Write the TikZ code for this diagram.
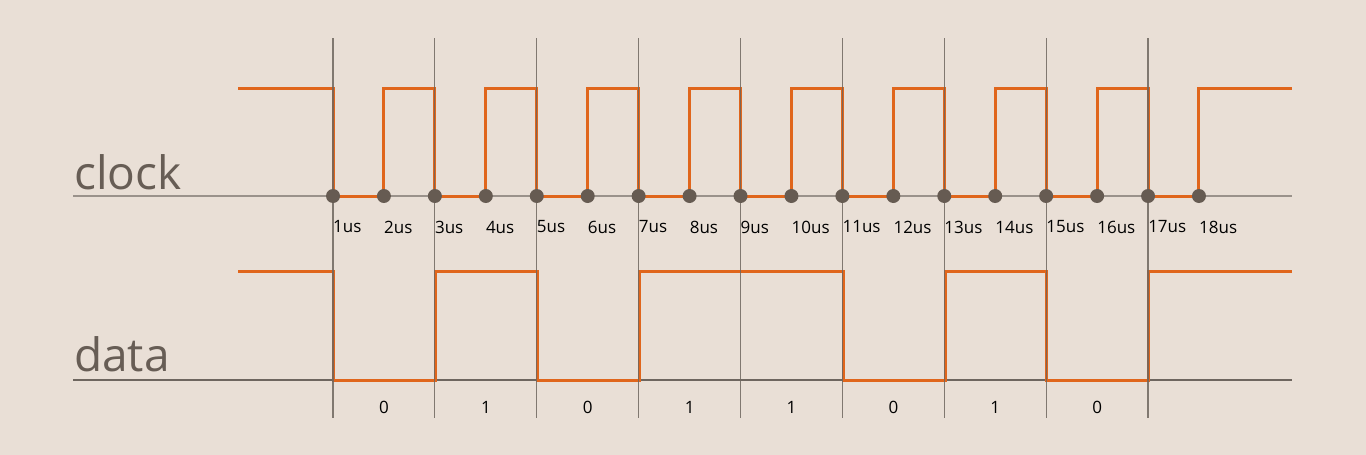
\documentclass[tikz,border=0pt]{standalone}
\usepackage{fontspec}
\setmainfont{Open Sans}
\definecolor{bg}{HTML}{E9DFD6}
\definecolor{sig}{HTML}{E0661C}
\definecolor{grid}{HTML}{6E665F}
\definecolor{base}{HTML}{9A928B}
\definecolor{dotc}{HTML}{665B52}
\definecolor{lbl}{HTML}{675D55}
\begin{document}
\begin{tikzpicture}[x=1pt,y=-1pt,
  gridline/.style={grid,line width=1.2pt,opacity=0.85},
  baseline/.style={base,line width=2pt},
  wave/.style={sig,line width=3pt,line join=miter},
  tick/.style={circle,fill=dotc,inner sep=0pt,minimum size=14pt},
  tlabel/.style={anchor=west,inner sep=0pt,font=\fontsize{17}{17}\selectfont,text=black},
  bit/.style={inner sep=0pt,font=\fontsize{17}{17}\selectfont,text=black},
  title/.style={anchor=base west,inner sep=0pt,font=\fontsize{46}{46}\selectfont,text=lbl}]
\fill[bg] (0,0) rectangle (1366,455);
\useasboundingbox (0,0) rectangle (1366,455);
% baselines
\draw[baseline] (73,196) -- (1292,196);
\draw[grid,line width=1.6pt] (73,380) -- (1292,380);
% titles
\node[title] (clk) at (74,189) {clock};
\node[title] (dat) at (74,371) {data};
% clock waveform
\draw[wave] (238,88) -- (333,88) -- (333,196)
  \foreach \k in {0,...,7}{
    -- ({333+101.875*\k+50.94},196) -- ({333+101.875*\k+50.94},88)
    -- ({333+101.875*(\k+1)},88) -- ({333+101.875*(\k+1)},196)
  }
  -- (1198,196) -- (1198,88) -- (1292,88);
% data waveform
\draw[wave] (238,271) -- (333,271) -- (333,380) -- (435,380) -- (435,271)
  -- (537,271) -- (537,380) -- (639,380) -- (639,271) -- (843,271) -- (843,380)
  -- (945,380) -- (945,271) -- (1046,271) -- (1046,380) -- (1148,380) -- (1148,271)
  -- (1292,271);
% vertical grid lines
\foreach \i in {0,...,8}{
  \draw[gridline] ({333+101.875*\i},38) -- ({333+101.875*\i},418);
}
% dots and time labels
\foreach \n in {1,...,18}{
  \node[tick] (d\n) at ({333+50.94*(\n-1)},196) {};
  \node[tlabel] (t\n) at ({333+50.94*(\n-1)},227) {\n us};
}
% bits
\foreach \b [count=\i from 0] in {0,1,0,1,1,0,1,0}{
  \node[bit] (b\i) at ({384+101.875*\i},407) {\b};
}
\end{tikzpicture}
\end{document}
